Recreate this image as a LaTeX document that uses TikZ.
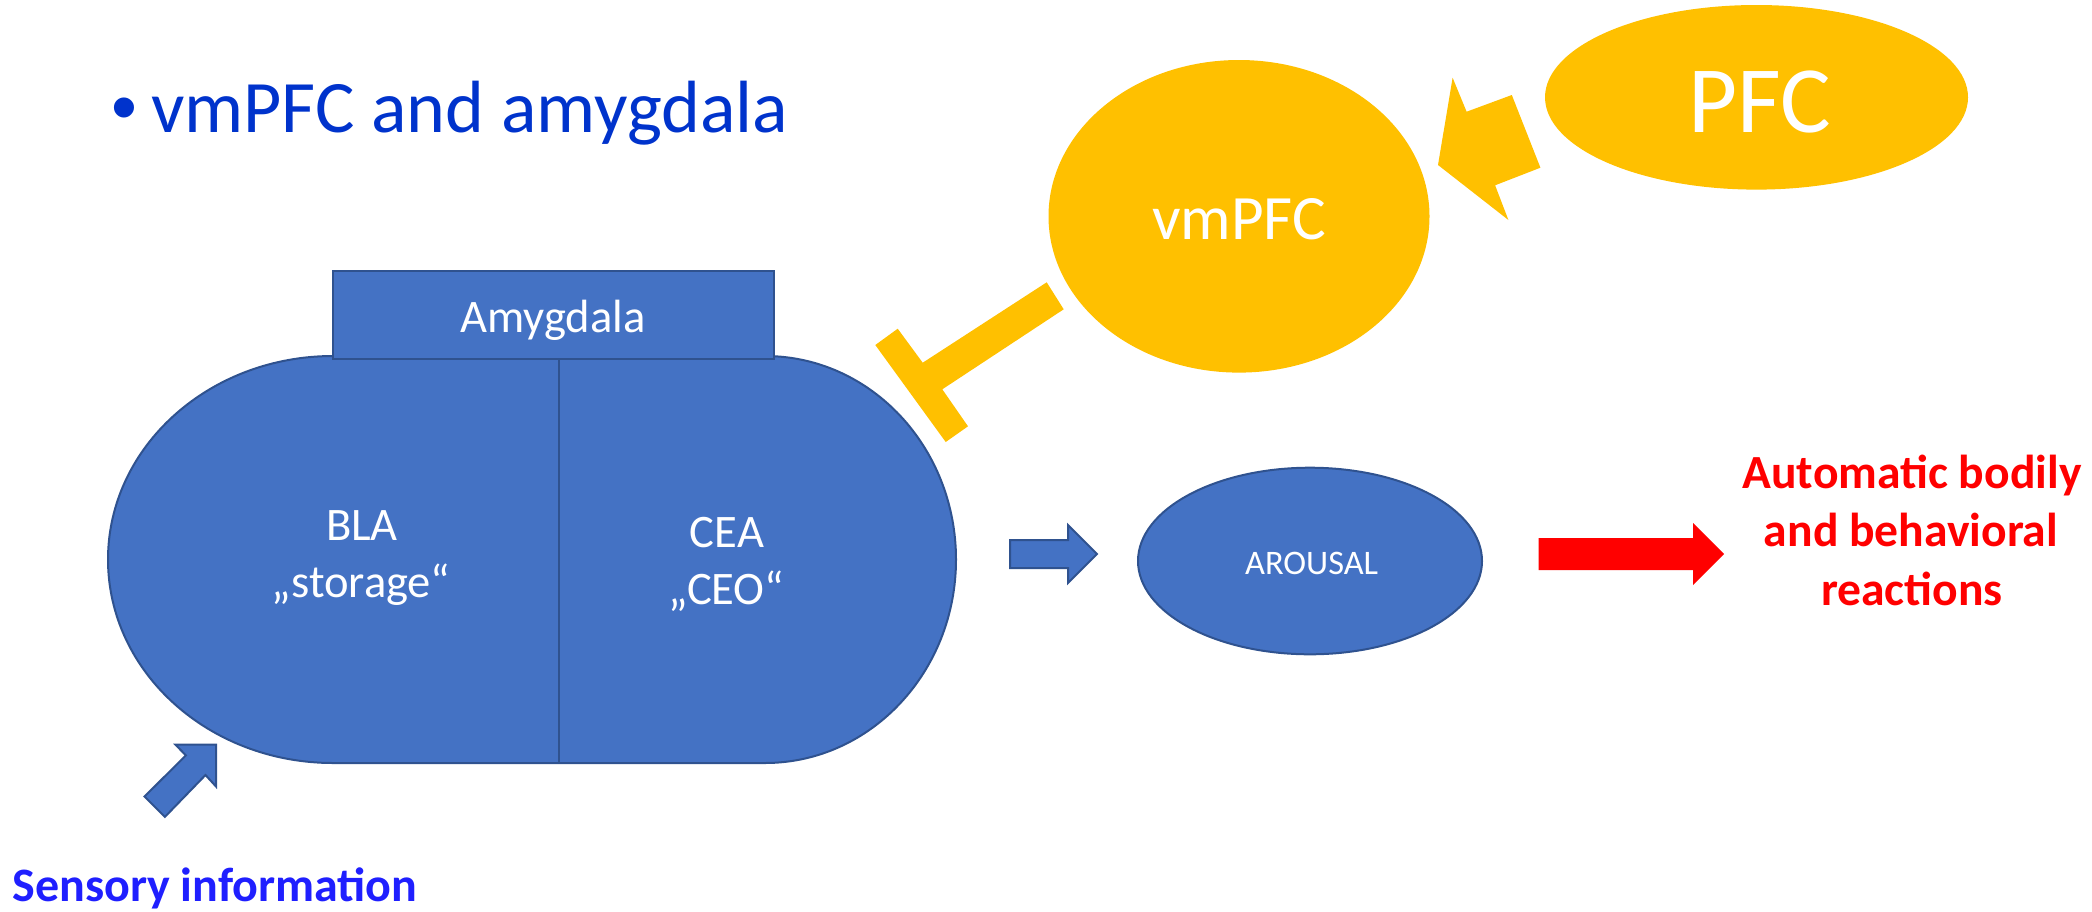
\documentclass[tikz,border=0pt]{standalone}
\usepackage{fontspec}
\setmainfont{Carlito}
\newfontfamily\arialfont{Liberation Sans}
\usetikzlibrary{shapes.geometric}
\definecolor{amyblue}{HTML}{4472C4}
\definecolor{amyedge}{HTML}{2F528F}
\definecolor{gold}{HTML}{FFC000}
\definecolor{titleblue}{HTML}{0033CC}
\definecolor{sensblue}{HTML}{1F1FFF}
\definecolor{redarrow}{HTML}{FF0000}
\begin{document}
\begin{tikzpicture}[x=0.5pt,y=-0.5pt,
  wtxt/.style={inner sep=0pt, anchor=base, text=white, font=\fontsize{23.3}{28}\selectfont},
  bluebody/.style={fill=amyblue, draw=amyedge, line width=1pt},
  goldbody/.style={fill=gold, draw=none},
  redtxt/.style={inner sep=0pt, anchor=base, text=redarrow, font=\bfseries\fontsize{23.8}{28}\selectfont}]
\useasboundingbox (0,0) rectangle (2092,911);
% title
\node[inner sep=0pt, anchor=base west, text=titleblue, font=\arialfont\fontsize{37}{44}\selectfont] (bullet) at (111,132.7) {•};
\node[inner sep=0pt, anchor=base west, text=titleblue, font=\fontsize{37}{44}\selectfont] (title) at (150.7,132.7) {vmPFC and amygdala};
% amygdala body
\path[bluebody] (333,356) -- (765,356)
  arc[start angle=-90, end angle=90, x radius=191, y radius=203.5]
  -- (333,763)
  arc[start angle=90, end angle=270, x radius=225, y radius=203.5] -- cycle;
\node[bluebody, rectangle, minimum width=220.3pt, minimum height=44.3pt, inner sep=0pt] (amy) at (553.3,315) {};
\coordinate (divtop) at (559,359.3);
\coordinate (divbot) at (559,763);
\draw[amyedge, line width=1pt] (divtop) -- (divbot);
\node[wtxt] (amytxt) at (553,332.7) {Amygdala};
\node[wtxt] (bla) at (362,540.7) {BLA};
\node[wtxt] (storage) at (361,597) {„storage“};
\node[wtxt] (cea) at (727,547.8) {CEA};
\node[wtxt] (ceo) at (726,604.7) {„CEO“};
% vmPFC and PFC
\node[goldbody, ellipse, minimum width=190.5pt, minimum height=156.3pt, inner sep=0pt] (vmpfc) at (1239,216.3) {};
\node[wtxt, font=\fontsize{31.6}{38}\selectfont] (vmpfctxt) at (1239,239) {vmPFC};
\node[goldbody, ellipse, minimum width=211.5pt, minimum height=92.3pt, inner sep=0pt] (pfc) at (1756.5,97.3) {};
\node[wtxt, font=\fontsize{47.5}{56}\selectfont] (pfctxt) at (1760,132) {PFC};
% PFC -> vmPFC block arrow
\fill[gold] (1452.6,77.7) -- (1466.6,111.7) -- (1511.8,95) -- (1540.4,167.7) -- (1495.1,185.3) -- (1508.4,220) -- (1438,165) -- cycle;
% vmPFC inhibits amygdala (T bar)
\fill[gold] (1046.7,282.3) -- (1063.7,309.3) -- (942.3,389.3) -- (968,426.3) -- (945.7,442) -- (875.3,345) -- (897.7,328.7) -- (922.7,362.7) -- cycle;
% CEA -> AROUSAL
\filldraw[bluebody] (1010,540) -- (1068,540) -- (1068,525) -- (1097,554) -- (1068,583) -- (1068,568) -- (1010,568) -- cycle;
\node[bluebody, ellipse, minimum width=172pt, minimum height=93.3pt, inner sep=0pt] (arousal) at (1310,561) {};
\node[wtxt, font=\fontsize{17.2}{21}\selectfont] (arousaltxt) at (1311.6,574.3) {AROUSAL};
% AROUSAL -> reactions
\fill[redarrow] (1538.5,538) -- (1693,538) -- (1693,523) -- (1724,554) -- (1693,585) -- (1693,570) -- (1538.5,570) -- cycle;
\node[redtxt] (react1) at (1912,488) {Automatic bodily};
\node[redtxt] (react2) at (1911,546.7) {and behavioral};
\node[redtxt] (react3) at (1912,605) {reactions};
% sensory input
\filldraw[bluebody] (175.4,744.6) -- (216,744.6) -- (216,786.5) -- (205.5,775) -- (164.9,816.9) -- (144.5,796.5) -- (185.9,755.4) -- cycle;
\node[inner sep=0pt, anchor=base west, text=sensblue, font=\bfseries\fontsize{24}{28}\selectfont] (sensory) at (12,901) {Sensory information};
\end{tikzpicture}
\end{document}
